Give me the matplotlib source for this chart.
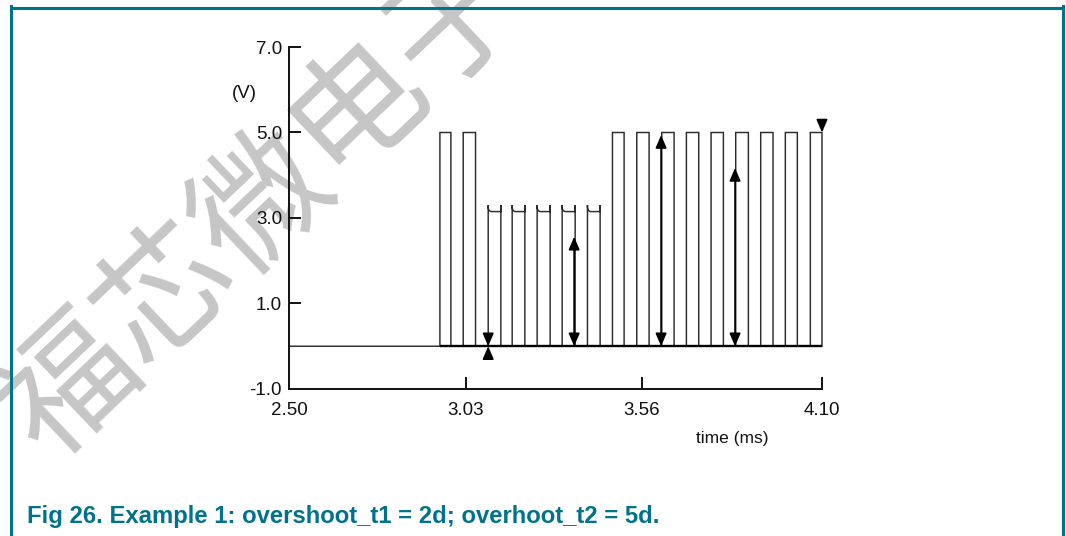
import numpy as np
import matplotlib.pyplot as plt
from matplotlib.lines import Line2D

# pulse train (time in ms, level in V)
pulse_start = [2.953, 3.023, 3.098, 3.170, 3.245, 3.320, 3.396,
               3.471, 3.544, 3.619, 3.693, 3.767, 3.841, 3.916, 3.990, 4.065]
pulse_end = [2.986, 3.060, 3.136, 3.208, 3.284, 3.359, 3.434,
             3.506, 3.581, 3.656, 3.730, 3.804, 3.879, 3.953, 4.026, 4.100]
pulse_peak = [5.0, 5.0, 3.3, 3.3, 3.3, 3.3, 3.3,
              5.0, 5.0, 5.0, 5.0, 5.0, 5.0, 5.0, 5.0, 5.0]
pulse_flat = [5.0, 5.0, 3.15, 3.15, 3.15, 3.15, 3.15,
              5.0, 5.0, 5.0, 5.0, 5.0, 5.0, 5.0, 5.0, 5.0]

# measurement arrows: (x, lower V, upper V)
double_arrows = [(3.356, 0.0, 2.56), (3.617, 0.0, 4.94), (3.839, 0.0, 4.17)]
down_marks = [(3.098, 0.0), (4.100, 5.0)]
up_marks = [(3.098, 0.0)]

xticks = [2.50, 3.03, 3.56, 4.10]
xtick_labels = ['2.50', '3.03', '3.56', '4.10']
yticks = [-1.0, 1.0, 3.0, 5.0, 7.0]
ytick_labels = ['-1.0', '1.0', '3.0', '5.0', '7.0']

teal = '#00738a'
plt.rcParams['font.family'] = ['Liberation Sans', 'DejaVu Sans']

fig = plt.figure(figsize=(10.66, 5.36), dpi=100)
ax = fig.add_axes([0.2711, 0.2743, 0.5, 0.638])
ax.set_facecolor('none')

# build the waveform path
xs, ys = [2.50], [0.0]
for s, e, pk, fl in zip(pulse_start, pulse_end, pulse_peak, pulse_flat):
    xs += [s, s]
    ys += [0.0, pk]
    if fl < pk:
        y0 = pk - 0.05
        a = np.linspace(0, np.pi / 2, 8)
        xs += list(s + 0.010 * (1 - np.cos(a)))
        ys += list(fl + (y0 - fl) * (1 - np.sin(a)))
        xs += [e, e, e]
        ys += [fl, pk, 0.0]
    else:
        xs += [e, e]
        ys += [pk, 0.0]

ax.plot(xs, ys, color='#2b2b2b', lw=1.05, solid_joinstyle='miter', clip_on=False)
ax.plot([pulse_start[0], pulse_end[-1]], [0, 0], color='black', lw=1.7,
        solid_capstyle='butt', clip_on=False)

aprops = dict(color='black', lw=1.2, shrinkA=0, shrinkB=0, mutation_scale=12)
for x, lo, hi in double_arrows:
    ax.annotate('', xy=(x, hi), xytext=(x, lo),
                arrowprops=dict(arrowstyle='<|-|>,head_length=0.65,head_width=0.28', **aprops),
                annotation_clip=False)
for x, y in down_marks:
    ax.annotate('', xy=(x, y), xytext=(x, y + 0.24),
                arrowprops=dict(arrowstyle='-|>,head_length=0.65,head_width=0.28', **aprops),
                annotation_clip=False)
for x, y in up_marks:
    ax.annotate('', xy=(x, y), xytext=(x, y - 0.26),
                arrowprops=dict(arrowstyle='-|>,head_length=0.65,head_width=0.28', **aprops),
                annotation_clip=False)

ax.set_xlim(2.50, 4.10)
ax.set_ylim(-1.0, 7.0)
for side in ['top', 'right']:
    ax.spines[side].set_visible(False)
for side in ['left', 'bottom']:
    ax.spines[side].set_linewidth(1.4)
    ax.spines[side].set_color('#111111')

ax.set_xticks(xticks, xtick_labels)
ax.set_yticks(yticks, ytick_labels)
ax.tick_params(axis='both', direction='in', length=8.6, width=1.4,
               labelsize=13.5, colors='#111111')
ax.tick_params(axis='y', pad=5)
ax.tick_params(axis='x', pad=9.5)
ax.xaxis.get_major_ticks()[0].tick1line.set_visible(False)
ax.yaxis.get_major_ticks()[0].tick1line.set_visible(False)

ax.text(2.366, 5.92, '(V)', fontsize=13.5, ha='center', va='center', color='#111111')
ax.text(3.83, -2.15, 'time (ms)', fontsize=12.5, ha='center', va='center', color='#111111')

# watermark
fig.text(265 / 1066, 1 - 205 / 536, '福芯微电子', family=['Noto Sans CJK SC', 'DejaVu Sans'],
         fontsize=96, fontweight=500, color='#c6c6c6', rotation=43.5,
         rotation_mode='anchor', ha='center', va='center', zorder=-5)

# frame
fig.add_artist(Line2D([10.5 / 1066, 1062.5 / 1066], [1 - 7.5 / 536] * 2, color=teal, lw=2.2))
fig.add_artist(Line2D([10.5 / 1066] * 2, [0, 1 - 6 / 536], color=teal, lw=2.2))
fig.add_artist(Line2D([1062.5 / 1066] * 2, [0, 1 - 6 / 536], color=teal, lw=2.2))

fig.text(27 / 1066, 1 - 523 / 536, 'Fig 26. Example 1: overshoot_t1 = 2d; overhoot_t2 = 5d.',
         fontsize=17.2, fontweight='bold', color=teal, ha='left', va='baseline')

fig.savefig('out.png', dpi=100)
